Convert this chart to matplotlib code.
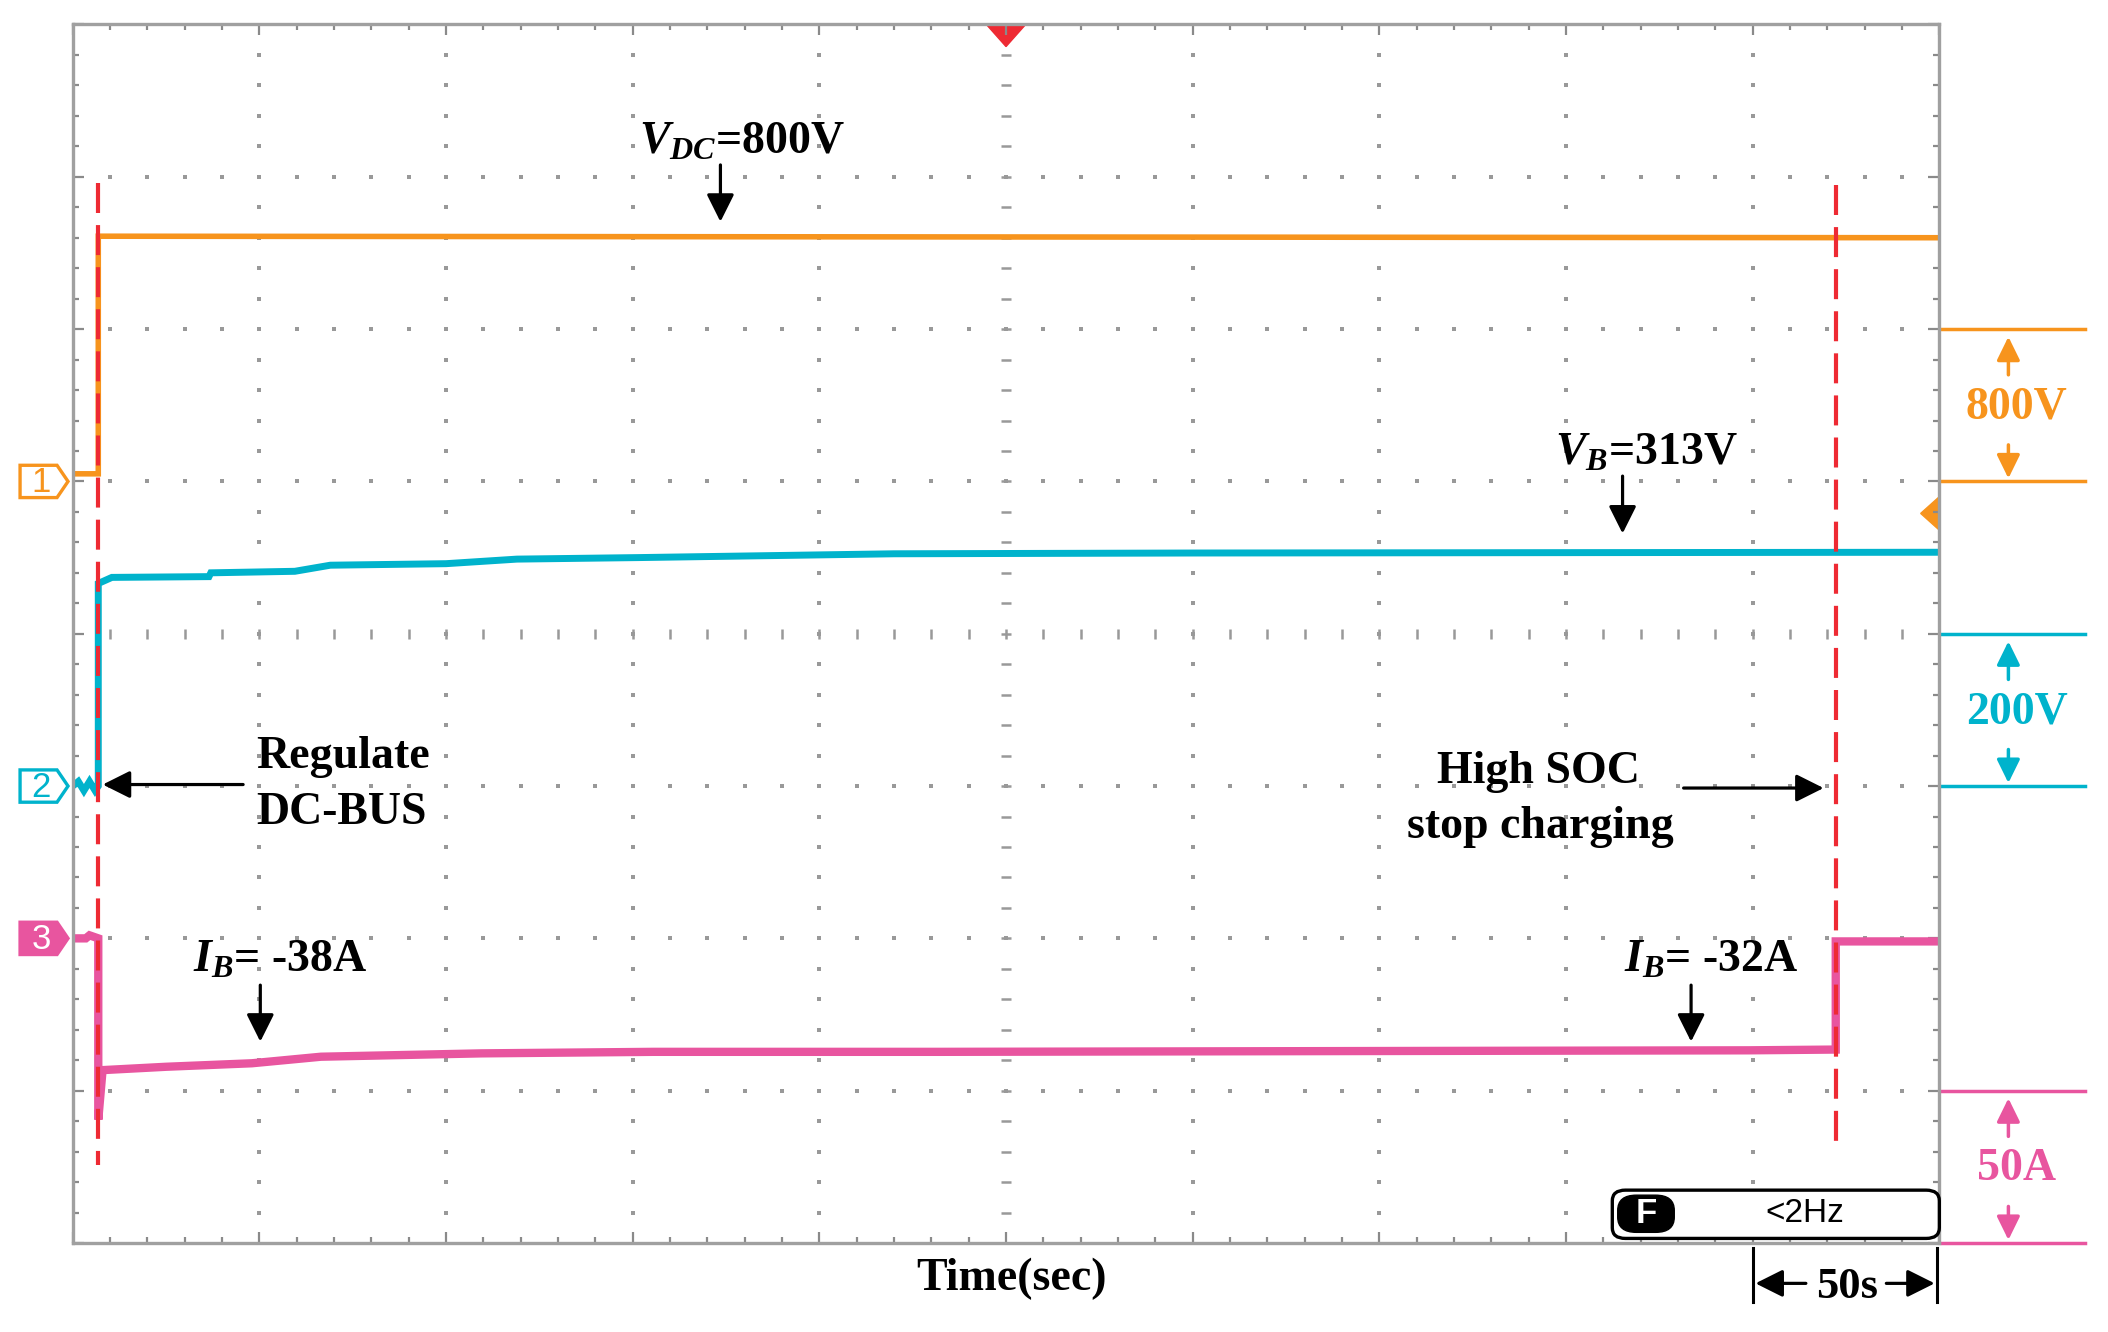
import numpy as np
import matplotlib.pyplot as plt
from matplotlib.patches import Polygon, FancyBboxPatch

t_inicio = 0.137   # Regulate DC-BUS
t_fin = 9.445      # High SOC, stop charging

# CH1: tension del bus DC
ch1_x = [0.0, 0.137, 0.137, 10.0]
ch1_y = [1.05, 1.05, 2.61, 2.60]

# CH2: tension de bateria
ch2_x = [0.0, 0.03, 0.06, 0.09, 0.12, 0.137, 0.137, 0.21, 0.73, 0.74, 1.19, 1.38, 2.0, 2.38, 3.03, 4.4, 6.0, 10.0]
ch2_y = [-1.0, -0.97, -1.03, -0.97, -1.03, -1.0, 0.33, 0.37, 0.375, 0.40, 0.41, 0.45, 0.46, 0.49, 0.50, 0.525, 0.53, 0.535]

# CH3: corriente de bateria
ch3_x = [0.0, 0.07, 0.09, 0.137, 0.137, 0.16, 0.5, 0.96, 1.33, 2.19, 3.11, 4.65, 8.98, 9.445, 9.445, 10.0]
ch3_y = [-2.0, -2.0, -1.98, -2.0, -3.19, -2.865, -2.843, -2.82, -2.777, -2.755, -2.745, -2.745, -2.735, -2.73, -2.02, -2.02]

escalas = ['800V', '200V', '50A']
marcas_canal = ['1', '2', '3']

naranja = '#f7941d'
cian = '#00b3cc'
rosa = '#e8559f'
rojo = '#ee2a33'
gris = '#999999'

plt.rcParams['font.family'] = ['Liberation Serif', 'DejaVu Serif']
plt.rcParams['font.weight'] = 'bold'
plt.rcParams['mathtext.fontset'] = 'custom'
plt.rcParams['mathtext.it'] = 'Liberation Serif:italic:bold'
plt.rcParams['mathtext.rm'] = 'Liberation Serif:bold'
plt.rcParams['mathtext.bf'] = 'Liberation Serif:bold'

fig = plt.figure(figsize=(21.08, 13.32), dpi=100)
ax = fig.add_axes([0.03449, 0.06682, 0.8855, 0.91479])
ax.set_xlim(0, 10)
ax.set_ylim(-4, 4)

# Marco con marcas hacia dentro como en la pantalla
ax.set_xticks(np.arange(0, 11, 1))
ax.set_yticks(np.arange(-4, 5, 1))
ax.set_xticks(np.arange(0, 10.01, 0.2), minor=True)
ax.set_yticks(np.arange(-4, 4.01, 0.2), minor=True)
ax.tick_params(which='both', direction='in', top=True, right=True, bottom=True, left=True,
               labelbottom=False, labelleft=False, color='#8a8a8a', width=1.6)
ax.tick_params(which='major', length=8)
ax.tick_params(which='minor', length=4.5)
for s in ax.spines.values():
    s.set_color('#a0a0a0')
    s.set_linewidth(2.4)

# Reticula de puntos
xs_min = np.arange(0.2, 10.0, 0.2)
ys_min = np.arange(-3.8, 4.0, 0.2)
for xv in range(1, 10):
    if xv == 5:
        continue
    ax.plot(np.full_like(ys_min, xv), ys_min, ls='none', marker='s', ms=2.3, mew=0, color=gris)
for yv in range(-3, 4):
    if yv == 0:
        continue
    ax.plot(xs_min, np.full_like(xs_min, yv), ls='none', marker='s', ms=2.3, mew=0, color=gris)
ax.plot(np.full_like(ys_min, 5), ys_min, ls='none', marker='_', ms=7, mew=1.8, color=gris)
ax.plot(xs_min, np.zeros_like(xs_min), ls='none', marker='|', ms=7, mew=1.8, color=gris)

# Trazas
ax.plot(ch1_x, ch1_y, color=naranja, lw=4.0, solid_joinstyle='miter')
ax.plot(ch2_x, ch2_y, color=cian, lw=5.0, solid_joinstyle='miter')
ax.plot(ch3_x, ch3_y, color=rosa, lw=6.0, solid_joinstyle='miter')

# Lineas rojas de eventos
ax.plot([t_inicio, t_inicio], [2.958, -3.49], color=rojo, lw=3.0, dashes=(7.2, 2.9))
ax.plot([t_fin, t_fin], [2.944, -3.344], color=rojo, lw=3.0, dashes=(7.2, 2.9))

# Marcador de disparo y nivel
ax.add_patch(Polygon([[4.895, 4.0], [5.105, 4.0], [5.0, 3.855]], closed=True, color=rojo, clip_on=False))
ax.add_patch(Polygon([[10.0, 0.90], [10.0, 0.68], [9.9, 0.79]], closed=True, color=naranja, clip_on=False))

# Marcadores de canal a la izquierda
def marcador(y, num, color, relleno):
    pts = [[-0.282, y + 0.106], [-0.084, y + 0.106], [-0.025, y], [-0.084, y - 0.106], [-0.282, y - 0.106]]
    ax.add_patch(Polygon(pts, closed=True, fc=color if relleno else 'white', ec=color, lw=2.4, clip_on=False))
    ax.text(-0.168, y - 0.01, num, color='white' if relleno else color, fontsize=25,
            family='Liberation Sans', weight='normal', ha='center', va='center')

marcador(1.0, marcas_canal[0], naranja, False)
marcador(-1.0, marcas_canal[1], cian, False)
marcador(-2.0, marcas_canal[2], rosa, True)

# Escalas a la derecha
def escala(y_sup, texto, color):
    ax.plot([10.015, 10.78], [y_sup, y_sup], color=color, lw=2.5, clip_on=False)
    ax.plot([10.015, 10.78], [y_sup - 1, y_sup - 1], color=color, lw=2.5, clip_on=False)
    ax.annotate('', xy=(10.37, y_sup - 0.05), xytext=(10.37, y_sup - 0.30), annotation_clip=False,
                arrowprops=dict(arrowstyle='-|>,head_length=0.55,head_width=0.27', color=color, lw=2.5,
                                mutation_scale=26, shrinkA=0, shrinkB=0))
    ax.annotate('', xy=(10.37, y_sup - 0.98), xytext=(10.37, y_sup - 0.76), annotation_clip=False,
                arrowprops=dict(arrowstyle='-|>,head_length=0.55,head_width=0.27', color=color, lw=2.5,
                                mutation_scale=26, shrinkA=0, shrinkB=0))
    ax.text(10.415, y_sup - 0.515, texto, color=color, fontsize=33, ha='center', va='center', clip_on=False)

escala(2.0, escalas[0], naranja)
escala(0.0, escalas[1], cian)
escala(-3.0, escalas[2], rosa)

# Anotaciones
flecha = dict(arrowstyle='-|>,head_length=0.6,head_width=0.3', color='black', lw=2.3,
              mutation_scale=28, shrinkA=0, shrinkB=0)

ax.text(3.586, 3.15, r'$V_{DC}$=800V', fontsize=33, ha='center', va='baseline')
ax.annotate('', xy=(3.47, 2.705), xytext=(3.47, 3.078), arrowprops=flecha)

ax.text(8.43, 1.11, r'$V_B$=313V', fontsize=33, ha='center', va='baseline')
ax.annotate('', xy=(8.303, 0.658), xytext=(8.303, 1.035), arrowprops=flecha)

ax.text(0.981, -0.884, 'Regulate', fontsize=33, ha='left', va='baseline')
ax.text(0.981, -1.25, 'DC-BUS', fontsize=33, ha='left', va='baseline')
ax.annotate('', xy=(0.161, -0.99), xytext=(0.913, -0.99), arrowprops=flecha)

ax.text(7.85, -0.98, 'High SOC', fontsize=33, ha='center', va='baseline')
ax.text(7.86, -1.34, 'stop charging', fontsize=33, ha='center', va='baseline')
ax.annotate('', xy=(9.38, -1.013), xytext=(8.63, -1.013), arrowprops=flecha)

ax.text(1.11, -2.22, r'$I_B$= -38A', fontsize=33, ha='center', va='baseline')
ax.annotate('', xy=(1.005, -2.678), xytext=(1.005, -2.307), arrowprops=flecha)

ax.text(8.78, -2.22, r'$I_B$= -32A', fontsize=33, ha='center', va='baseline')
ax.annotate('', xy=(8.67, -2.678), xytext=(8.67, -2.307), arrowprops=flecha)

# Caja de frecuencia
ax.add_patch(FancyBboxPatch((8.248, -3.97), 1.752, 0.317, boxstyle='round,pad=0,rounding_size=0.07',
                            fc='white', ec='black', lw=2.4, clip_on=False, zorder=5))
ax.add_patch(FancyBboxPatch((8.277, -3.93), 0.303, 0.244, boxstyle='round,pad=0,rounding_size=0.1',
                            fc='black', ec='black', lw=1, clip_on=False, zorder=6))
ax.text(8.428, -3.808, 'F', color='white', fontsize=25, family='Liberation Sans', weight='bold',
        ha='center', va='center', zorder=7)
ax.text(9.277, -3.806, '<2Hz', color='black', fontsize=24, family='Liberation Sans', weight='normal',
        ha='center', va='center', zorder=7)

# Eje de tiempo
ax.text(5.03, -4.31, 'Time(sec)', fontsize=33, ha='center', va='baseline', clip_on=False)
ax.plot([9.0, 9.0], [-4.035, -4.386], color='black', lw=2.2, clip_on=False)
ax.plot([9.99, 9.99], [-4.035, -4.386], color='black', lw=2.2, clip_on=False)
ax.annotate('', xy=(9.015, -4.265), xytext=(9.285, -4.265), annotation_clip=False, arrowprops=flecha)
ax.annotate('', xy=(9.975, -4.265), xytext=(9.716, -4.265), annotation_clip=False, arrowprops=flecha)
ax.text(9.506, -4.364, '50s', fontsize=32, ha='center', va='baseline', clip_on=False)

plt.savefig('out.png', format='png', dpi=100)
